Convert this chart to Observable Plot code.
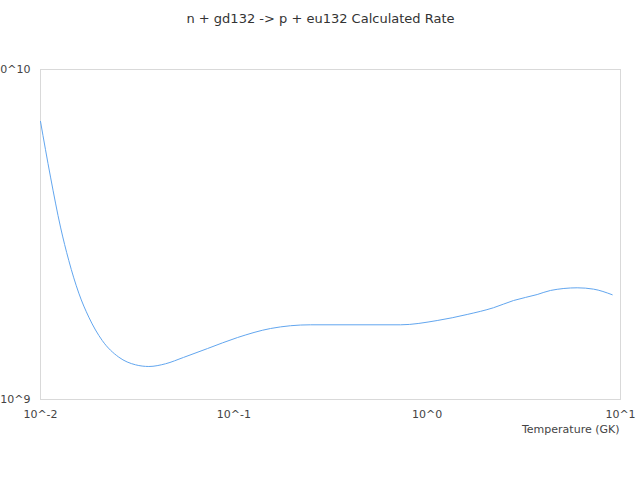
<!DOCTYPE html>
<html>
<head>
<meta charset="utf-8">
<script src="https://cdn.jsdelivr.net/npm/d3@7"></script>
<script src="https://cdn.jsdelivr.net/npm/@observablehq/plot@0.6"></script>
<style>
  html, body { margin: 0; padding: 0; background: #fff; }
  #chart { width: 640px; height: 480px; }
</style>
</head>
<body>
<div id="chart"></div>
<script>
const title = "n + gd132 -> p + eu132 Calculated Rate";
const xLabel = "Temperature (GK)";
const temperature = [0.01, 0.01127, 0.01269, 0.0140, 0.01578, 0.01778, 0.02085, 0.0254, 0.0310, 0.03633, 0.0443, 0.0549, 0.0731, 0.1045, 0.1548, 0.2492, 0.728, 1.127, 1.611, 2.203, 2.797, 3.708, 4.345, 5.97, 7.25, 9.06];
const rate = [6.96e9, 4.72e9, 3.33e9, 2.64e9, 2.10e9, 1.776e9, 1.51e9, 1.344e9, 1.274e9, 1.259e9, 1.283e9, 1.341e9, 1.427e9, 1.541e9, 1.641e9, 1.684e9, 1.684e9, 1.735e9, 1.81e9, 1.897e9, 1.995e9, 2.08e9, 2.14e9, 2.18e9, 2.16e9, 2.077e9];
const xTicks = [0.01, 0.1, 1, 10];
const xTickLabels = ["10^-2", "10^-1", "10^0", "10^1"];
const yTicks = [1e9, 1e10];
const yTickLabels = ["10^9", "10^10"];

const data = temperature.map((t, i) => ({t, r: rate[i]}));
const labelFor = (ticks, labels) => d => {
  const i = ticks.findIndex(v => Math.abs(Math.log10(v) - Math.log10(d)) < 1e-6);
  return i >= 0 ? labels[i] : "";
};

const chart = Plot.plot({
  width: 640,
  height: 480,
  marginLeft: 40,
  marginRight: 20,
  marginTop: 69,
  marginBottom: 81,
  style: {fontFamily: "DejaVu Sans", fontSize: "11px", color: "#444", background: "#fff"},
  x: {type: "log", domain: [0.01, 10], ticks: xTicks, tickFormat: labelFor(xTicks, xTickLabels), tickSize: 0, tickPadding: 11, label: null},
  y: {type: "log", domain: [1e9, 1e10], ticks: yTicks, tickFormat: labelFor(yTicks, yTickLabels), tickSize: 0, tickPadding: 10, label: null},
  marks: [
    Plot.frame({stroke: "#d9d9d9"}),
    Plot.line(data, {x: "t", y: "r", stroke: "#62a6ef", strokeWidth: 1, curve: "monotone-x"}),
    Plot.text([xLabel], {frameAnchor: "bottom-right", dy: 33, dx: -1, textAnchor: "end", fill: "#444", fontSize: 11}),
    Plot.text([title], {frameAnchor: "top", dy: -56, dx: -10, fill: "#333", fontSize: 13})
  ]
});
document.getElementById("chart").appendChild(chart);
</script>
</body>
</html>
